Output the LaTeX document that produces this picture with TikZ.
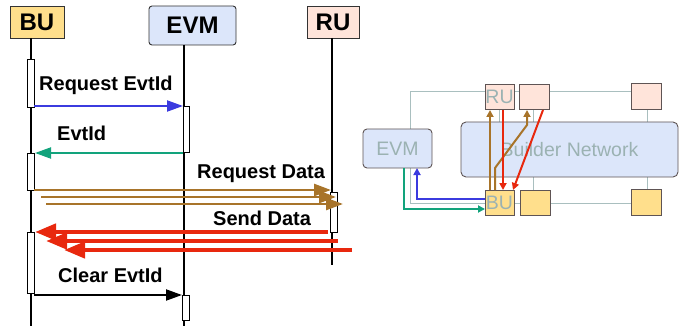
\documentclass[tikz,border=0pt]{standalone}
\usepackage{fontspec}
\setmainfont{Liberation Sans}
\usetikzlibrary{arrows.meta}
\definecolor{cBU}{HTML}{FFDF8C}
\definecolor{cEVM}{HTML}{DCE6FA}
\definecolor{cRU}{HTML}{FFE4DA}
\definecolor{cBlue}{HTML}{3B3BDF}
\definecolor{cGreen}{HTML}{12A37C}
\definecolor{cBrown}{HTML}{A8742A}
\definecolor{cRed}{HTML}{E8280E}
\definecolor{cGrey}{HTML}{A9BFBF}
\definecolor{cGText}{HTML}{9BB2B2}
\definecolor{cBorder}{HTML}{5E5454}
\begin{document}
\begin{tikzpicture}[x=1pt,y=-1pt,
  head/.style={draw=black!80, line width=0.9pt, font=\bfseries\fontsize{24}{24}\selectfont, inner sep=0pt},
  act/.style={draw=black, fill=white, line width=0.7pt, minimum width=7pt, inner sep=0pt},
  life/.style={line width=1.8pt},
  lbl/.style={font=\bfseries\fontsize{20}{20}\selectfont, anchor=base west, inner sep=0pt},
  msg/.style={line width=2pt, -{Triangle[length=16pt,width=11pt]}},
  brmsg/.style={line width=2.6pt, -{Triangle[length=17pt,width=12pt]}},
  bigmsg/.style={line width=4.4pt, -{Triangle[length=21pt,width=16pt]}},
  gline/.style={draw=cGrey, line width=1pt},
  sbox/.style={draw=cBorder, line width=0.9pt, inner sep=0pt, text=cGText, font=\fontsize{19.5}{19.5}\selectfont},
  sarr/.style={line width=2pt, -{Triangle[length=7pt,width=7pt]}}]
\useasboundingbox (0,0) rectangle (693,326);
% ---------- sequence diagram ----------
\node[head, fill=cBU, minimum width=54pt, minimum height=32pt] (BU) at (37,22) {BU};
\node[head, fill=cEVM, rounded corners=3pt, minimum width=87pt, minimum height=39pt] (EVM) at (192.5,25.5) {EVM};
\node[head, fill=cRU, minimum width=52pt, minimum height=32pt] (RU) at (333,22) {RU};
\coordinate (buT) at (31,38);  \coordinate (buB) at (31,326);
\coordinate (evT) at (184,45); \coordinate (evB) at (184,326);
\coordinate (ruT) at (332,38); \coordinate (ruB) at (332,265);
\draw[life] (buT) -- (buB);
\draw[life] (evT) -- (evB);
\draw[life] (ruT) -- (ruB);
\node[act, minimum height=48pt] (a1) at (30.5,83) {};
\node[act, minimum height=37pt] (a2) at (30.5,171.5) {};
\node[act, minimum height=61pt] (a3) at (30.5,262.5) {};
\node[act, minimum width=6pt, minimum height=46pt] (e1) at (186,129) {};
\node[act, minimum height=25pt] (e2) at (185.5,307.5) {};
\node[act, minimum height=40pt] (r1) at (333.5,212) {};
% messages
\coordinate (m1a) at (34,106); \coordinate (m1b) at (183,106);
\draw[msg, cBlue] (m1a) -- (m1b);
\node[lbl] (l1) at (39,91) {Request EvtId};
\coordinate (m2a) at (183,153); \coordinate (m2b) at (35,153);
\draw[msg, cGreen] (m2a) -- (m2b);
\node[lbl] (l2) at (57,140) {EvtId};
\coordinate (b1a) at (34,190); \coordinate (b1b) at (331,190);
\coordinate (b2a) at (41,197); \coordinate (b2b) at (336,197);
\coordinate (b3a) at (46,204); \coordinate (b3b) at (343,204);
\draw[brmsg, cBrown] (b1a) -- (b1b);
\draw[brmsg, cBrown] (b2a) -- (b2b);
\draw[brmsg, cBrown] (b3a) -- (b3b);
\node[lbl] (l3) at (197,178) {Request Data};
\coordinate (r1a) at (328,232); \coordinate (r1b) at (35,232);
\coordinate (r2a) at (338,241); \coordinate (r2b) at (46,241);
\coordinate (r3a) at (352,250); \coordinate (r3b) at (64,250);
\draw[bigmsg, cRed] (r1a) -- (r1b);
\draw[bigmsg, cRed] (r2a) -- (r2b);
\draw[bigmsg, cRed] (r3a) -- (r3b);
\node[lbl] (l4) at (213,225) {Send Data};
\coordinate (m5a) at (34,295); \coordinate (m5b) at (182,295);
\draw[msg, black] (m5a) -- (m5b);
\node[lbl] (l5) at (58,282) {Clear EvtId};
% ---------- topology diagram ----------
\coordinate (g1) at (410,129); \coordinate (g2) at (410,92); \coordinate (g3) at (631,92);
\coordinate (g4) at (410,168); \coordinate (g5) at (410,203); \coordinate (g6) at (631,203);
\draw[gline] (g1) -- (g2) -- (g3);
\draw[gline] (g4) -- (g5) -- (g6);
\coordinate (v1a) at (499,109); \coordinate (v1b) at (499,122);
\coordinate (v2a) at (533,109); \coordinate (v2b) at (533,190);
\coordinate (v3a) at (647,109); \coordinate (v3b) at (647,190);
\draw[gline] (v1a) -- (v1b);
\draw[gline] (v2a) -- (v2b);
\draw[gline] (v3a) -- (v3b);
\node[sbox, fill=cEVM, rounded corners=4pt, minimum width=69pt, minimum height=39pt] (evm2) at (397.5,148.5) {EVM};
\node[sbox, fill=cEVM, rounded corners=5pt, minimum width=217pt, minimum height=55pt] (net) at (569.5,149.5) {Builder Network};
\node[sbox, fill=cRU, minimum width=29pt, minimum height=25pt] (ru1) at (499.5,96.5) {RU};
\node[sbox, fill=cRU, minimum width=30pt, minimum height=25pt] (ru2) at (534,96.5) {};
\node[sbox, fill=cRU, minimum width=30pt, minimum height=26pt] (ru3) at (646,96) {};
\node[sbox, fill=cBU, minimum width=29pt, minimum height=25pt] (bu1) at (499.5,202.5) {BU};
\node[sbox, fill=cBU, minimum width=30pt, minimum height=25pt] (bu2) at (535,202.5) {};
\node[sbox, fill=cBU, minimum width=30pt, minimum height=26pt] (bu3) at (646,202) {};
% arrows
\coordinate (s1a) at (490,190); \coordinate (s1b) at (490,110);
\draw[sarr, cBrown] (s1a) -- (s1b);
\coordinate (s2a) at (495,190); \coordinate (s2b) at (495,168); \coordinate (s2c) at (527,125); \coordinate (s2d) at (527,110);
\draw[sarr, cBrown] (s2a) -- (s2b) -- (s2c) -- (s2d);
\coordinate (s3a) at (503,110); \coordinate (s3b) at (503,190);
\draw[sarr, cRed] (s3a) -- (s3b);
\coordinate (s4a) at (543,110); \coordinate (s4b) at (513,190);
\draw[sarr, cRed] (s4a) -- (s4b);
\coordinate (s5a) at (485,199); \coordinate (s5b) at (417,199); \coordinate (s5c) at (417,168);
\draw[sarr, cBlue] (s5a) -- (s5b) -- (s5c);
\coordinate (s6a) at (404,168); \coordinate (s6b) at (404,209); \coordinate (s6c) at (485,209);
\draw[sarr, cGreen] (s6a) -- (s6b) -- (s6c);
\end{tikzpicture}
\end{document}
